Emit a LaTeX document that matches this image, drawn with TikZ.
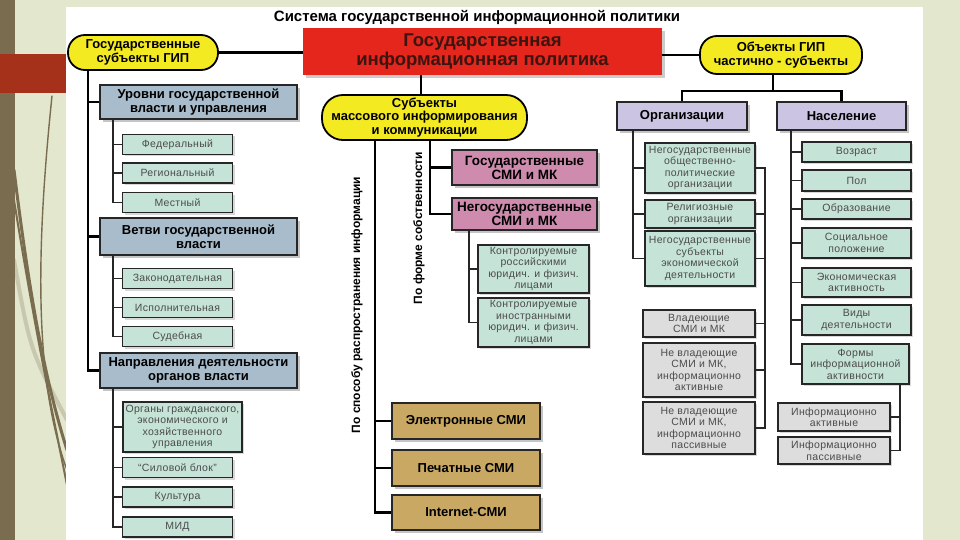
\documentclass[tikz,border=0pt]{standalone}
\usepackage{fontspec}
\setmainfont{Liberation Sans}
\newfontfamily\spacedfont[LetterSpace=3]{Liberation Sans}
\usetikzlibrary{shadows}
\definecolor{gyellow}{HTML}{F4EA22}
\definecolor{gred}{HTML}{E4261C}
\definecolor{gredtext}{HTML}{3C1410}
\definecolor{gslate}{HTML}{A8BCCB}
\definecolor{gmint}{HTML}{C5E3D6}
\definecolor{gpink}{HTML}{CE8BAE}
\definecolor{gtan}{HTML}{C8A862}
\definecolor{glilac}{HTML}{CBC4E2}
\definecolor{ggray}{HTML}{DDDDDD}
\definecolor{slidebg}{HTML}{E2E7CE}
\definecolor{slidestripe}{HTML}{7A6C4F}
\definecolor{slidered}{HTML}{A5311A}

\begin{document}
\begin{tikzpicture}[x=1pt, y=-1pt,
    every node/.style={align=center, inner sep=1pt},
    wh/.style 2 args={minimum width=#1pt, minimum height=#2pt},
    pill/.style={draw=black, line width=1.8pt, fill=gyellow, rounded corners=17pt,
        font=\fontsize{13}{13.5}\selectfont\bfseries},
    hdrbox/.style={draw=black!85, line width=1.8pt,
        drop shadow={shadow xshift=3pt, shadow yshift=-3pt, opacity=.45},
        font=\fontsize{13}{14}\selectfont\bfseries},
    subbox/.style={draw=black!85, line width=1.5pt, fill=gmint,
        drop shadow={shadow xshift=2pt, shadow yshift=-2pt, opacity=.3},
        text=black!70, font=\spacedfont\fontsize{10.5}{11.5}\selectfont},
    trunk/.style={line width=2.2pt, black},
    twig/.style={line width=1.3pt, black!85},
    grass/.style={slidestripe, line cap=round}]
    \useasboundingbox (0,0) rectangle (960,540);

    % Slide background
    \fill[slidebg] (0,0) rectangle (960,540);
    \fill[slidestripe] (0,0) rectangle (15,540);
    \fill[slidered] (0,54) rectangle (67,93);
    \draw[grass, line width=1.4pt] (52,96) .. controls (36,250) and (34,380) .. (67,470);
    \draw[grass, line width=3pt] (14,170) .. controls (30,300) and (45,380) .. (67,450);
    \draw[grass, line width=2pt] (14,200) .. controls (35,330) and (50,400) .. (67,485);
    \draw[grass, line width=4pt, opacity=.25] (14,260) .. controls (30,350) .. (67,420);
    \fill[white] (66,7) rectangle (923,540);

    % Top level
    \node[font=\fontsize{15}{17}\selectfont\bfseries] (title) at (477,17)
        {Система государственной информационной политики};
    \node[fill=gred, wh={359}{47}, text=gredtext,
        drop shadow={shadow xshift=3pt, shadow yshift=-3pt, opacity=.4},
        font=\fontsize{18.5}{19}\selectfont\bfseries] (gip) at (482.5,51.5)
        {Государственная\\информационная политика};
    \node[pill, wh={150}{35}] (gsubj) at (143,52.5) {Государственные\\субъекты ГИП};
    \node[pill, wh={162}{38}] (objgip) at (781,55) {Объекты ГИП\\частично - субъекты};
    \node[pill, wh={205}{45}, rounded corners=21pt] (msubj) at (424.5,117.5)
        {Субъекты\\массового информирования\\и коммуникации};

    \draw[trunk] (gsubj.east) -- (gsubj.east -| gip.west);
    \draw[trunk] (objgip.west) -- (objgip.west -| gip.east);
    \draw[trunk] (gip.south -| 421,0) -- (msubj.north -| 421,0);

    % Left column: state subjects
    \node[hdrbox, fill=gslate, wh={197}{34}] (urov) at (198.5,102)
        {Уровни государственной\\власти и управления};
    \node[hdrbox, fill=gslate, wh={197}{37}] (vetvi) at (198.5,236.5)
        {Ветви государственной\\власти};
    \node[hdrbox, fill=gslate, wh={197}{35}] (napr) at (198.5,370.5)
        {Направления деятельности\\органов власти};

    \foreach \nm/\y/\txt in {fed/144.5/Федеральный, reg/173/Региональный, mest/202.5/Местный,
        zak/278.5/Законодательная, isp/307.5/Исполнительная, sud/336.5/Судебная,
        sil/467.5/{“Силовой блок”}, kult/497/Культура, mid/527/МИД}
        \node[subbox, wh={110}{20}] (\nm) at (177.5,\y) {\txt};
    \node[subbox, wh={119}{50}] (orgupr) at (182.5,427)
        {Органы гражданского,\\экономического и\\хозяйственного\\управления};

    \coordinate (tL) at (88,0);
    \coordinate (tLs) at (113,0);
    \draw[trunk] (gsubj.south -| tL) |- (napr.west);
    \foreach \n in {urov, vetvi}
        \draw[trunk] (tL |- \n.west) -- (\n.west);
    \draw[twig] (urov.south -| tLs) |- (mest.west);
    \draw[twig] (vetvi.south -| tLs) |- (sud.west);
    \draw[twig] (napr.south -| tLs) |- (mid.west);
    \foreach \n in {fed, reg, zak, isp, orgupr, sil, kult}
        \draw[twig] (tLs |- \n.west) -- (\n.west);

    % Middle column: mass media
    \node[rotate=90, font=\fontsize{12}{13}\selectfont\bfseries] (lblsposob) at (357,305)
        {По способу распространения информации};
    \node[rotate=90, font=\fontsize{12}{13}\selectfont\bfseries] (lblforma) at (419,228)
        {По форме собственности};

    \node[hdrbox, fill=gpink, wh={145}{35}, font=\fontsize{13.5}{14}\selectfont\bfseries] (gsmi)
        at (524.5,167.5) {Государственные\\СМИ и МК};
    \node[hdrbox, fill=gpink, wh={145}{32}, font=\fontsize{13.5}{14}\selectfont\bfseries] (ngsmi)
        at (524.5,214) {Негосударственные\\СМИ и МК};
    \node[subbox, wh={111}{48}] (kros) at (533.5,269)
        {Контролируемые\\российскими\\юридич. и физич.\\лицами};
    \node[subbox, wh={111}{49}] (kino) at (533.5,322.5)
        {Контролируемые\\иностранными\\юридич. и физич.\\лицами};
    \node[hdrbox, fill=gtan, wh={148}{36}] (elsmi) at (466,421) {Электронные СМИ};
    \node[hdrbox, fill=gtan, wh={148}{36}] (pesmi) at (466,468) {Печатные СМИ};
    \node[hdrbox, fill=gtan, wh={148}{35}] (insmi) at (466,512.5) {Internet-СМИ};

    \coordinate (tM) at (375,0);
    \coordinate (tMf) at (430,0);
    \coordinate (tMk) at (469,0);
    \draw[trunk] (msubj.south -| tM) |- (insmi.west);
    \foreach \n in {elsmi, pesmi}
        \draw[trunk] (tM |- \n.west) -- (\n.west);
    \draw[trunk] (msubj.south -| tMf) |- (ngsmi.west);
    \draw[trunk] (tMf |- gsmi.west) -- (gsmi.west);
    \draw[twig] (ngsmi.south -| tMk) |- (kino.west);
    \draw[twig] (tMk |- kros.west) -- (kros.west);

    % Right column: objects
    \node[hdrbox, fill=glilac, wh={130}{28}] (orgs) at (682,116) {Организации};
    \node[hdrbox, fill=glilac, wh={129}{28}] (nasel) at (841.5,116) {Население};
    \coordinate (rbar) at (773,91);
    \draw[trunk] (objgip.south -| rbar) -- (rbar);
    \draw[trunk] (orgs.north) |- (rbar) -| (nasel.north);

    \node[subbox, wh={110}{50}] (nobsch) at (700,168)
        {Негосударственные\\общественно-\\политические\\организации};
    \node[subbox, wh={110}{28}] (relig) at (700,214) {Религиозные\\организации};
    \node[subbox, wh={110}{55}] (nsubj) at (700,258.5)
        {Негосударственные\\субъекты\\экономической\\деятельности};
    \node[subbox, fill=ggray, wh={112}{27}] (vlad) at (699,323.5) {Владеющие\\СМИ и МК};
    \node[subbox, fill=ggray, wh={112}{54}] (nvakt) at (699,370)
        {Не владеющие\\СМИ и МК,\\информационно\\активные};
    \node[subbox, fill=ggray, wh={112}{52}] (nvpas) at (699,428)
        {Не владеющие\\СМИ и МК,\\информационно\\пассивные};

    \coordinate (tRo) at (633,0);
    \coordinate (tRr) at (765,0);
    \draw[twig] (orgs.south -| tRo) |- (nsubj.west);
    \foreach \n in {nobsch, relig}
        \draw[twig] (tRo |- \n.west) -- (\n.west);
    \draw[twig] (nobsch.east) -| (tRr |- nvpas.east) -- (nvpas.east);
    \foreach \n in {relig, nsubj, vlad, nvakt}
        \draw[twig] (\n.east) -- (\n.east -| tRr);

    \foreach \nm/\y/\h/\txt in {voz/152/20/Возраст, pol/180.5/21/Пол, obr/209/20/Образование,
        soc/243/30/{Социальное\\положение}, eko/282.5/29/{Экономическая\\активность},
        vid/320/30/{Виды\\деятельности}}
        \node[subbox, wh={109}{\h}] (\nm) at (856.5,\y) {\txt};
    \node[subbox, wh={107}{40}] (forms) at (855.5,364) {Формы\\информационной\\активности};
    \node[subbox, fill=ggray, wh={112}{28}] (infakt) at (834,417) {Информационно\\активные};
    \node[subbox, fill=ggray, wh={112}{27}] (infpas) at (834,450.5) {Информационно\\пассивные};

    \coordinate (tRn) at (791,0);
    \coordinate (tRf) at (900,0);
    \draw[twig] (nasel.south -| tRn) |- (forms.west);
    \foreach \n in {voz, pol, obr, soc, eko, vid}
        \draw[twig] (tRn |- \n.west) -- (\n.west);
    \draw[twig] (forms.south -| tRf) |- (infpas.east);
    \draw[twig] (infakt.east) -- (infakt.east -| tRf);
\end{tikzpicture}
\end{document}
